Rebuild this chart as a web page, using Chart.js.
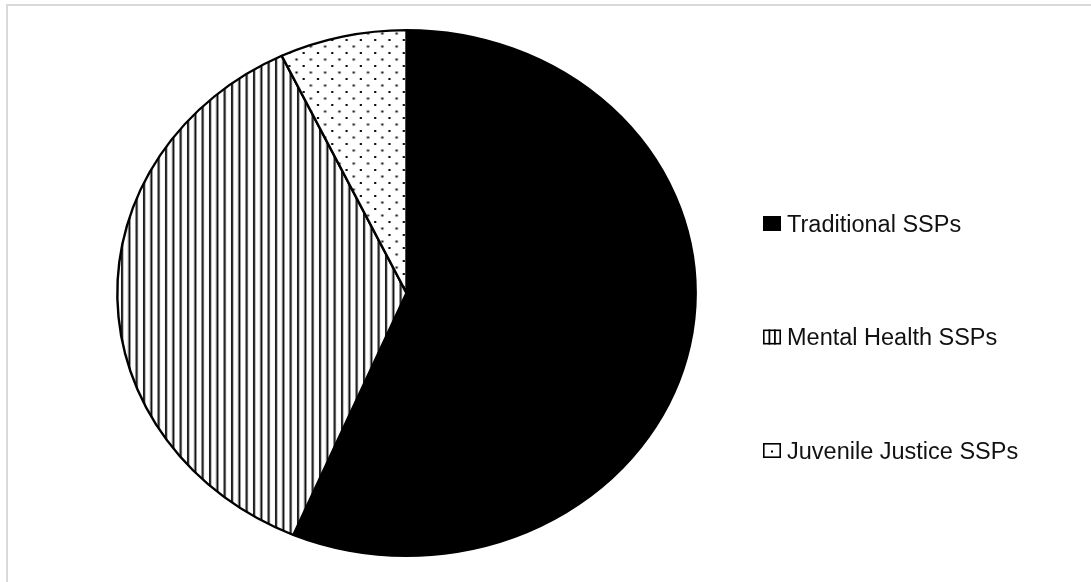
<!DOCTYPE html>
<html>
<head>
<meta charset="utf-8">
<script src="https://cdn.jsdelivr.net/npm/chart.js@4/dist/chart.umd.min.js"></script>
<style>
  body { margin: 0; background: #fff; }
  #wrap { position: relative; width: 1091px; height: 582px; overflow: hidden; }
  #frame { position: absolute; left: 6px; top: 4px; width: 1200px; height: 700px;
           border-top: 2px solid #d9d9d9; border-left: 2px solid #d9d9d9; }
  canvas { position: absolute; left: 0; top: 0; }
</style>
</head>
<body>
<div id="wrap">
  <div id="frame"></div>
  <canvas id="pie" width="1091" height="582"></canvas>
</div>
<script>
// data
const categories = ['Traditional SSPs', 'Mental Health SSPs', 'Juvenile Justice SSPs'];
const shares = [56.4, 36.5, 7.1];
const fills = ['solid', 'vlines', 'dots'];

const canvas = document.getElementById('pie');
const ctx = canvas.getContext('2d');

function stripes() {
    const c = document.createElement('canvas');
    c.width = 20; c.height = 4;
    const x = c.getContext('2d');
    x.fillStyle = '#fff';
    x.fillRect(0, 0, 20, 4);
    x.strokeStyle = '#000';
    x.lineWidth = 1.8;
    for (let i = 0; i < 3; i++) {
        const px = 1.2 + i * 20 / 3;
        x.beginPath(); x.moveTo(px, 0); x.lineTo(px, 4); x.stroke();
    }
    return ctx.createPattern(c, 'repeat');
}

function dots() {
    const c = document.createElement('canvas');
    c.width = 13; c.height = 13;
    const x = c.getContext('2d');
    x.fillStyle = '#fff';
    x.fillRect(0, 0, 13, 13);
    x.fillStyle = '#111';
    x.fillRect(0, 0, 2, 2);
    x.fillRect(6.5, 6.5, 2, 2);
    return ctx.createPattern(c, 'repeat');
}

function pickFill(f) {
    if (f == 'vlines') return stripes();
    if (f == 'dots') return dots();
    return '#000';
}

// the original pie is a bit wider than tall
const stretchX = 1.1;
const stretch = {
    id: 'stretch',
    beforeDatasetsDraw(chart) {
        const arc = chart.getDatasetMeta(0).data[0];
        const c = chart.ctx;
        c.save();
        c.translate(arc.x, arc.y);
        c.scale(stretchX, 1);
        c.translate(-arc.x, -arc.y);
    },
    afterDatasetsDraw(chart) {
        chart.ctx.restore();
    }
};

// legend drawn by hand so box/text spacing matches
const sideLegend = {
    id: 'sideLegend',
    afterDraw(chart) {
        const c = chart.ctx;
        const boxX = 763, boxW = 18, boxH = 15;
        const textX = 787;
        c.save();
        c.font = '23.5px "Liberation Sans", Arial, sans-serif';
        c.textBaseline = 'alphabetic';
        categories.forEach((label, i) => {
            const base = 231.5 + i * 113.5;
            const top = base - 15.5;
            c.lineWidth = 1.6;
            c.strokeStyle = '#000';
            if (fills[i] == 'solid') {
                c.fillStyle = '#000';
                c.fillRect(boxX, top, boxW, boxH);
            } else {
                c.fillStyle = '#fff';
                c.fillRect(boxX, top, boxW, boxH);
                c.strokeRect(boxX + 0.8, top + 0.8, boxW - 1.6, boxH - 1.6);
                c.fillStyle = '#000';
                if (fills[i] == 'vlines') {
                    c.fillRect(boxX + 5.5, top, 1.8, boxH);
                    c.fillRect(boxX + 11, top, 1.8, boxH);
                } else {
                    c.fillRect(boxX + 8, top + 7.5, 2, 2);
                }
            }
            c.fillStyle = '#111';
            c.fillText(label, textX, base);
        });
        c.restore();
    }
};

new Chart(canvas, {
    type: 'pie',
    data: {
        labels: categories,
        datasets: [{
            data: shares,
            backgroundColor: fills.map(pickFill),
            borderColor: '#000',
            borderWidth: 2.2,
            clip: false
        }]
    },
    options: {
        responsive: false,
        animation: false,
        devicePixelRatio: 1,
        layout: { padding: { left: 142, right: 420, top: 29, bottom: 25 } },
        plugins: {
            legend: { display: false },
            tooltip: { enabled: false }
        }
    },
    plugins: [stretch, sideLegend]
});
</script>
</body>
</html>
